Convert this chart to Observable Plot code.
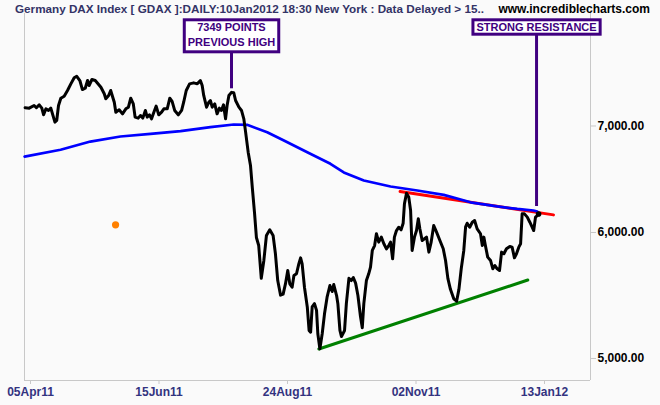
<!DOCTYPE html>
<html><head><meta charset="utf-8">
<script src="https://cdn.jsdelivr.net/npm/d3@7"></script>
<script src="https://cdn.jsdelivr.net/npm/@observablehq/plot@0.6"></script>
<style>
html,body{margin:0;padding:0;background:#fafafa;}
#chart{width:660px;height:405px;}
</style></head><body><div id="chart"></div>
<script>
const title = "Germany DAX Index [ GDAX ]:DAILY:10Jan2012 18:30 New York : Data Delayed > 15..";
const source = "www.incrediblecharts.com";

// x = trading-day index (0 = 05Apr11)
const tickIdx = [0, 50, 100, 150, 200];
const tickLabels = ["05Apr11", "15Jun11", "24Aug11", "02Nov11", "13Jan12"];
const yTicks = [5000, 6000, 7000];

const priceIdx = [
  -2.1,-0.5,1.4,2.3,3.4,4.4,5.1,6.0,7.0,7.9,
  9.5,10.2,10.9,11.8,13.1,14.4,15.7,17.0,18.0,19.2,
  20.2,21.3,22.2,22.8,23.9,25.2,27.4,28.7,29.3,30.4,
  31.2,32.6,33.2,34.5,35.8,37.1,38.1,39.0,40.0,40.7,
  41.9,42.8,43.7,44.7,45.4,46.3,47.1,48.0,48.9,49.9,
  51.0,51.9,53.2,54.2,55.1,56.1,57.5,58.8,59.6,60.6,
  61.9,63.5,64.9,66.1,66.8,67.4,68.5,69.4,70.0,70.7,
  71.7,72.6,73.5,74.3,75.1,75.9,76.5,77.2,78.2,79.1,
  79.8,81.1,82.1,83.0,83.7,84.7,85.6,86.3,87.2,87.9,
  88.8,89.8,90.8,91.8,93.1,94.4,95.3,96.2,97.3,98.3,
  99.2,100.1,100.9,101.8,102.5,103.5,104.4,105.1,105.7,106.6,
  107.7,108.4,109.0,109.6,110.5,111.3,111.8,112.6,113.5,114.4,
  115.4,116.5,117.4,118.0,119.1,119.6,120.4,121.0,122.2,122.9,
  123.9,124.8,125.6,126.5,127.4,128.4,129.1,129.7,130.7,131.6,
  132.3,133.0,133.9,134.6,135.5,136.5,137.5,138.5,139.4,140.1,
  140.9,141.6,142.4,143.3,144.2,145.0,145.5,146.3,147.2,147.9,
  148.5,149.4,150.2,150.9,151.5,152.4,153.3,154.1,155.0,155.9,
  156.3,156.9,158.0,159.3,160.6,161.5,162.4,163.4,164.7,165.8,
  166.7,167.6,168.6,169.3,169.9,170.9,171.9,172.8,173.8,175.1,
  175.8,176.4,177.0,177.9,179.0,179.9,180.7,181.6,182.5,183.3,
  184.2,185.2,186.5,187.4,188.3,189.1,190.0,190.7,191.3,192.2,
  193.3,194.3,195.2,195.8,196.5,197.2,197.7
];
const priceVal = [
  7187,7183,7211,7187,7218,7183,7114,7176,7159,7183,
  7039,7056,7211,7287,7308,7369,7440,7505,7522,7476,
  7379,7393,7476,7422,7487,7476,7404,7334,7281,7316,
  7369,7245,7141,7166,7124,7176,7193,7287,7228,7090,
  7080,7107,7080,7159,7090,7114,7073,7141,7204,7114,
  7141,7176,7176,7287,7253,7159,7114,7159,7245,7369,
  7440,7451,7440,7476,7422,7316,7193,7245,7263,7193,
  7228,7124,7183,7159,7218,7073,7211,7316,7349,7344,
  7263,7193,7159,7073,6938,6740,6611,6405,6164,5957,
  5888,5615,5762,5974,6023,5974,5818,5597,5480,5488,
  5570,5679,5570,5543,5638,5652,5734,5784,5734,5543,
  5387,5207,5194,5387,5413,5360,5182,5070,5182,5334,
  5464,5557,5509,5565,5477,5413,5207,5161,5207,5413,
  5615,5597,5621,5576,5477,5313,5228,5413,5597,5652,
  5707,5846,5888,5989,5917,5960,5903,5860,5888,5917,
  5776,5960,6017,6046,6023,6081,6254,6350,6313,6194,
  5846,5960,6017,6120,6032,5931,5946,5960,5832,5917,
  5974,6061,6003,5931,5860,5762,5615,5526,5451,5432,
  5526,5693,5846,6049,6081,6046,6090,6105,6032,5989,
  5888,5960,5888,5790,5762,5693,5720,5693,5679,5832,
  5818,5860,5880,5874,5784,5818,5874,5903,6164,6164,
  6135,6090,6046,6017,6135,6149,6163
];

// moving average (blue)
const maIdx = [-2.3,11.7,23.3,35.0,46.7,58.4,70.0,79.1,84.3,92.1,98.6,107.7,116.7,121.9,129.7,140.1,150.5,160.8,171.2,181.6,189.4,195.7,197.2];
const maVal = [6697,6763,6844,6894,6921,6948,6988,7015,7012,6937,6854,6739,6627,6545,6469,6413,6376,6336,6268,6231,6208,6194,6185];

// trend lines
const resistIdx = [143.8, 203.5];
const resistVal = [6367, 6155];
const supportIdx = [112.2, 193.5];
const supportVal = [5069, 5601];

// marker
const markerIdx = [33.1];
const markerVal = [6067];

// annotations
const annoIdx = [78.4, 197.1];
const annoVal = [7387, 6230];
const annoText = [["7349 POINTS", "PREVIOUS HIGH"], ["STRONG RESISTANCE"]];

const zip = (a, b) => a.map((x, i) => ({x, y: b[i]}));
const price = zip(priceIdx, priceVal);
const ma = zip(maIdx, maVal);
const resist = zip(resistIdx, resistVal);
const support = zip(supportIdx, supportVal);
const marker = zip(markerIdx, markerVal);

const xDomain = [-2.335, 217.9];
const yDomain = [4843.2, 8237.4];
const gridGray = "#c8c8c8";
const purple = "#400080";

const plot = Plot.plot({
  width: 660, height: 405,
  marginLeft: 24, marginRight: 70, marginTop: 13, marginBottom: 25,
  style: {background: "#fafafa", fontFamily: "'Liberation Sans', Arial, sans-serif", fontSize: "12px", overflow: "visible"},
  x: {domain: xDomain, label: null},
  y: {type: "log", domain: yDomain, label: null},
  marks: [
    Plot.ruleX(xDomain, {stroke: gridGray, strokeWidth: 1}),
    Plot.ruleY([yDomain[0]], {stroke: gridGray, strokeWidth: 1}),
    Plot.axisX(tickIdx, {tickFormat: d => tickLabels[tickIdx.indexOf(d)], tickSize: 4, tickPadding: 3, stroke: gridGray, fill: "#333380", fontWeight: "bold", label: null}),
    Plot.axisY(yTicks, {anchor: "right", tickFormat: d3.format(",.2f"), tickSize: 5, tickPadding: 2, stroke: gridGray, fill: "#000", fontWeight: "bold", label: null}),
    Plot.line(resist, {x: "x", y: "y", stroke: "#ff0000", strokeWidth: 3}),
    Plot.line(ma, {x: "x", y: "y", stroke: "#0000ff", strokeWidth: 2.7}),
    Plot.line(support, {x: "x", y: "y", stroke: "#008000", strokeWidth: 3}),
    Plot.line(price, {x: "x", y: "y", stroke: "#000", strokeWidth: 3, strokeLinejoin: "round"}),
    Plot.dot([price[price.length - 1]], {x: "x", y: "y", r: 2.8, fill: "#000"}),
    Plot.dot(marker, {x: "x", y: "y", r: 3.6, fill: "#ff8000"})
  ]
});

document.getElementById("chart").append(plot);
const svg = d3.select(plot);
svg.selectAll('g[aria-label="x-axis tick label"] text, g[aria-label="y-axis tick label"] text').attr("font-weight", "bold");

svg.append("text").attr("x", 15).attr("y", 12.5).attr("fill", "#333366").attr("text-anchor", "start")
  .attr("font-weight", "bold").attr("font-size", 11.7).text(title);
svg.append("text").attr("x", 650).attr("y", 12.5).attr("text-anchor", "end").attr("fill", "#000")
  .attr("font-weight", "bold").attr("font-size", 12).text(source);

const sx = plot.scale("x"), sy = plot.scale("y");
annoIdx.forEach((ix, i) => {
  const px = sx.apply(ix), py = sy.apply(annoVal[i]);
  const lines = annoText[i];
  const g = svg.append("g");
  const top = 19.8, h = lines.length * 17.6 - 3.2;
  g.append("line").attr("x1", px).attr("x2", px).attr("y1", top + h).attr("y2", py)
    .attr("stroke", purple).attr("stroke-width", 3);
  const rect = g.append("rect");
  const t = g.append("text").attr("text-anchor", "middle").attr("font-weight", "bold")
    .attr("font-size", 11).attr("fill", purple);
  lines.forEach((s, j) => t.append("tspan").attr("x", px).attr("y", 31 + j * 14.7).text(s));
  const bb = t.node().getBBox();
  rect.attr("x", bb.x - 3.5).attr("y", top).attr("width", bb.width + 7).attr("height", h)
    .attr("fill", "#ffffff").attr("stroke", purple).attr("stroke-width", 3);
});
</script>
</body></html>
